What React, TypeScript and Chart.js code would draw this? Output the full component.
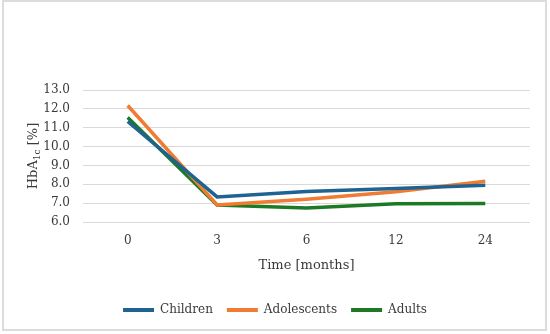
import React, { useEffect, useRef } from "react";
import { Chart, registerables } from "chart.js";

Chart.register(...registerables);

const categories = ["0", "3", "6", "12", "24"];
const children = [11.33, 7.33, 7.62, 7.77, 7.95];
const adolescents = [12.18, 6.9, 7.2, 7.6, 8.16];
const adults = [11.54, 6.9, 6.74, 6.97, 6.98];
const seriesNames = ["Children", "Adolescents", "Adults"];
const seriesColors = ["#1f6391", "#f07b32", "#1c7a25"];

const FONT = "'DejaVu Serif', serif";
const TEXT = "#3a3a3a";

const yTitlePlugin = {
  id: "yTitle",
  afterDraw(chart: any) {
    const ctx = chart.ctx;
    const area = chart.chartArea;
    const cy = (area.top + area.bottom) / 2;
    const cx = 34;
    ctx.save();
    ctx.translate(cx, cy);
    ctx.rotate(-Math.PI / 2);
    ctx.fillStyle = TEXT;
    ctx.textBaseline = "middle";
    const big = `13px ${FONT}`;
    const small = `9px ${FONT}`;
    const parts = [
      { t: "HbA", f: big, dy: 0 },
      { t: "1c", f: small, dy: 4 },
      { t: " [%]", f: big, dy: 0 },
    ];
    let total = 0;
    for (const p of parts) {
      ctx.font = p.f;
      total += ctx.measureText(p.t).width;
    }
    let x = -total / 2;
    ctx.textAlign = "left";
    for (const p of parts) {
      ctx.font = p.f;
      ctx.fillText(p.t, x, p.dy);
      x += ctx.measureText(p.t).width;
    }
    ctx.restore();
  },
};

export default function App() {
  const ref = useRef<HTMLCanvasElement | null>(null);
  useEffect(() => {
    document.body.style.margin = "0";
    const data = [children, adolescents, adults];
    const chart = new Chart(ref.current!, {
      type: "line",
      data: {
        labels: categories,
        datasets: seriesNames.map((name, i) => ({
          label: name,
          data: data[i],
          borderColor: seriesColors[i],
          backgroundColor: seriesColors[i],
          borderWidth: 3.5,
          pointRadius: 0,
          tension: 0,
          fill: false,
        })),
      },
      options: {
        animation: false,
        responsive: false,
        layout: { padding: { left: 20, right: 20, top: 90, bottom: 8 } },
        plugins: {
          tooltip: { enabled: false },
          legend: {
            position: "bottom",
            labels: {
              boxWidth: 31,
              boxHeight: 4,
              padding: 14,
              color: TEXT,
              font: { family: FONT, size: 12 },
              generateLabels: (c: any) =>
                c.data.datasets.map((d: any, i: number) => ({
                  text: d.label,
                  fillStyle: d.borderColor,
                  strokeStyle: d.borderColor,
                  lineWidth: 0,
                  hidden: false,
                  datasetIndex: i,
                  fontColor: TEXT,
                })),
            },
          },
        },
        scales: {
          x: {
            offset: true,
            grid: { display: false, drawTicks: false },
            border: { display: false },
            ticks: {
              color: TEXT,
              font: { family: FONT, size: 12 },
              padding: 12,
            },
            title: {
              display: true,
              text: "Time [months]",
              color: TEXT,
              font: { family: FONT, size: 13 },
              padding: { top: 6, bottom: 17 },
            },
            afterFit: (s: any) => {
              s.height = 68;
            },
          },
          y: {
            min: 6,
            max: 13,
            grid: { color: "#d9d9d9", lineWidth: 1, drawTicks: false },
            border: { display: false },
            ticks: {
              stepSize: 1,
              color: TEXT,
              font: { family: FONT, size: 12 },
              padding: 13,
              callback: (v: any) => Number(v).toFixed(1),
            },
            afterFit: (s: any) => {
              s.width = 63;
            },
          },
        },
      },
      plugins: [yTitlePlugin],
    } as any);
    return () => chart.destroy();
  }, []);
  return (
    <div style={{ position: "relative", width: 550, height: 334 }}>
      <canvas ref={ref} width={550} height={334} style={{ position: "absolute", left: 0, top: 0 }} />
      <div
        style={{
          position: "absolute",
          left: 2,
          top: 0,
          width: 541,
          height: 327,
          border: "2px solid #dcdcdc",
          pointerEvents: "none",
        }}
      />
    </div>
  );
}
